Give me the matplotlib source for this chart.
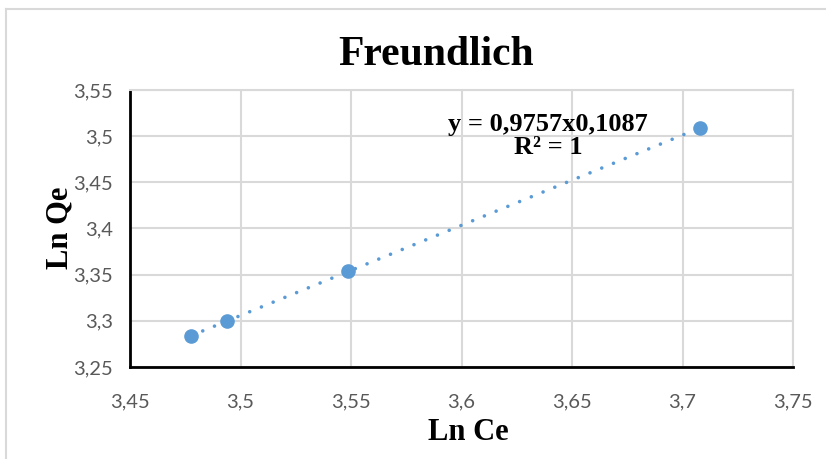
import matplotlib.pyplot as plt
import numpy as np
from matplotlib.ticker import FuncFormatter, MultipleLocator
from matplotlib.lines import Line2D

# Freundlich isotherm data (ln Ce vs ln Qe)
ln_ce = [3.4776, 3.4939, 3.5486, 3.7079]
ln_qe = [3.2835, 3.2998, 3.3539, 3.5087]
equation = "y = 0,9757x0,1087"
r_squared = "R² = 1"

blue = "#5B9BD5"
grid_grey = "#D9D9D9"
tick_grey = "#595959"
serif = "Liberation Serif"

fig = plt.figure(figsize=(8.26, 4.59), dpi=100)
ax = fig.add_axes([130 / 826, 1 - 367 / 459, 663 / 826, 277 / 459])

# outer chart border (left and top edge)
fig.add_artist(Line2D([6 / 826, 6 / 826], [0, 1 - 9 / 459], transform=fig.transFigure,
                      color=grid_grey, lw=1.5))
fig.add_artist(Line2D([6 / 826, 1], [1 - 9 / 459, 1 - 9 / 459], transform=fig.transFigure,
                      color=grid_grey, lw=1.5))

# linear trend line
slope, intercept = np.polyfit(ln_ce, ln_qe, 1)
xs = np.array([min(ln_ce), max(ln_ce)])
ax.plot(xs, slope * xs + intercept, color=blue, lw=2.6,
        linestyle=(0, (0.01, 3.5)), dash_capstyle="round", zorder=2)
ax.plot(ln_ce, ln_qe, "o", color=blue, markersize=9.5, zorder=3)

ax.set_xlim(3.45, 3.75)
ax.set_ylim(3.25, 3.55)
ax.xaxis.set_major_locator(MultipleLocator(0.05))
ax.yaxis.set_major_locator(MultipleLocator(0.05))
fmt = FuncFormatter(lambda v, p: f"{v:g}".replace(".", ","))
ax.xaxis.set_major_formatter(fmt)
ax.yaxis.set_major_formatter(fmt)

ax.grid(True, color=grid_grey, lw=1.5)
ax.set_axisbelow(True)
for side in ["top", "right"]:
    ax.spines[side].set_color(grid_grey)
    ax.spines[side].set_linewidth(1.5)
for side in ["left", "bottom"]:
    ax.spines[side].set_color("black")
    ax.spines[side].set_linewidth(2)

ax.tick_params(length=0, labelsize=14.5, labelcolor=tick_grey)
ax.tick_params(axis="x", pad=19)
ax.tick_params(axis="y", pad=12)
for lab in ax.get_xticklabels() + ax.get_yticklabels():
    lab.set_fontfamily("Lato")

fig.text(436 / 826, 1 - 55 / 459, "Freundlich", ha="center", va="center",
         fontsize=30, fontweight="bold", fontfamily=serif)
fig.text(468 / 826, 1 - 432 / 459, "Ln Ce", ha="center", va="center",
         fontsize=22, fontweight="bold", fontfamily=serif)
fig.text(60 / 826, 1 - 228 / 459, "Ln Qe", ha="center", va="center", rotation=90,
         fontsize=22, fontweight="bold", fontfamily=serif)

ax.text(548 / 826, 1 - 124 / 459, equation, transform=fig.transFigure,
        ha="center", va="center", fontsize=19, fontweight="bold", fontfamily=serif)
ax.text(548 / 826, 1 - 147 / 459, r_squared, transform=fig.transFigure,
        ha="center", va="center", fontsize=19, fontweight="bold", fontfamily=serif)

fig.savefig("out.png", dpi=100)
